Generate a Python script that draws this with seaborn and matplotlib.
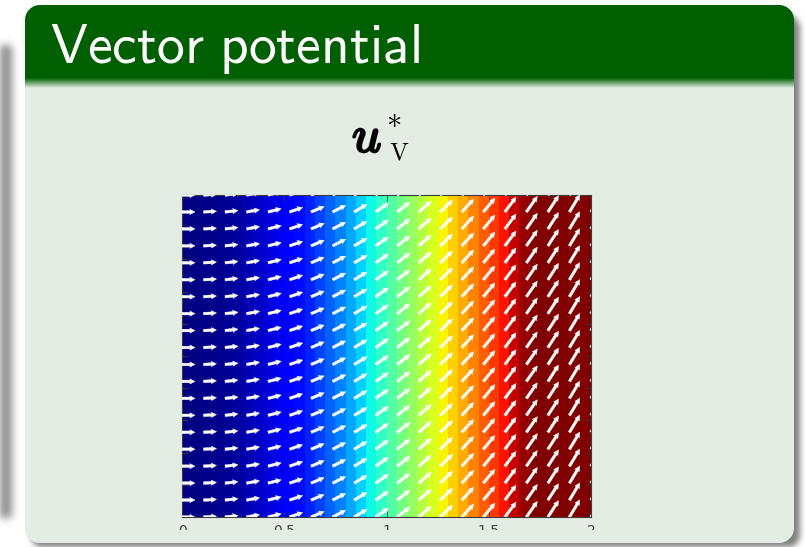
import numpy as np
import matplotlib
matplotlib.use("Agg")
import matplotlib.pyplot as plt
import matplotlib.patheffects as pe
from matplotlib.transforms import Affine2D, Bbox, TransformedBbox
import seaborn as sns

plt.rcParams["mathtext.fontset"] = "cm"

# Colour value (0..1 on the jet scale) of each vertical band, x from 0 to 2
band_value = [0.00, 0.005, 0.01, 0.015, 0.02, 0.03, 0.045, 0.06, 0.08, 0.10,
              0.115, 0.135, 0.16, 0.19, 0.22, 0.25, 0.29, 0.33, 0.37, 0.41,
              0.45, 0.49, 0.53, 0.57, 0.61, 0.65, 0.69, 0.73, 0.77, 0.81,
              0.85, 0.89, 0.94, 0.98, 1.00, 1.00, 1.00, 1.00, 1.00, 1.00]

# Arrow direction (degrees on screen) and length (pixels) for each grid column
arrow_angle_deg = [0, 3, 6, 10, 14, 19, 23, 27, 31, 35,
                   38, 41, 44, 47, 50, 53, 55, 57, 59, 61]
arrow_length_px = [13, 13, 13, 13.2, 13.5, 13.8, 14.2, 14.6, 15, 15.5,
                   16, 16.5, 17, 17.5, 18, 18.5, 19, 19.5, 20, 20.5]
n_rows = 20

x_range = (0.0, 2.0)
y_range = (0.0, 1.0)
x_ticks = [0, 0.5, 1, 1.5, 2]
x_tick_labels = ["0", "0.5", "1", "1.5", "2"]
y_ticks = [0.0, 0.1, 0.2, 0.3, 0.4, 0.5, 0.6, 0.7, 0.8, 0.9, 1.0]

W, H = 805, 547
fig = plt.figure(figsize=(W / 100, H / 100), dpi=100)

# ---------- slide backdrop: panels, shadows, header bar ----------
yy, xx = np.mgrid[0:H, 0:W] + 0.5


def rrect_cover(x0, y0, x1, y1, r):
    cx = np.clip(xx, x0 + r, x1 - r)
    cy = np.clip(yy, y0 + r, y1 - r)
    d = np.hypot(xx - cx, yy - cy) - r
    return np.clip(0.5 - d, 0, 1)


def blur(a, s):
    n = int(3 * s)
    k = np.exp(-0.5 * (np.arange(-n, n + 1) / s) ** 2)
    k /= k.sum()
    a = np.apply_along_axis(lambda m: np.convolve(m, k, mode="same"), 0, a)
    a = np.apply_along_axis(lambda m: np.convolve(m, k, mode="same"), 1, a)
    return a


img = np.ones((H, W, 3))
left_shadow = blur(rrect_cover(-6, 45, 12, 518, 4), 4)
img *= (1 - 0.45 * left_shadow)[..., None]
drop = blur(rrect_cover(31, 14, 799, 549, 15), 3)
img *= (1 - 0.5 * drop)[..., None]

green = np.array([0x00, 0x5f, 0x00]) / 255
body = np.array([0xe3, 0xed, 0xe3]) / 255
t = np.clip((yy - 78) / 10, 0, 1)[..., None]
panel_col = green * (1 - t) + body * t
mask = rrect_cover(25, 5, 793, 543, 15)[..., None]
img = img * (1 - mask) + panel_col * mask

bg = fig.add_axes([0, 0, 1, 1], zorder=0)
bg.imshow(img, extent=(0, W, H, 0), interpolation="nearest", aspect="auto")
bg.set_xlim(0, W)
bg.set_ylim(H, 0)
bg.axis("off")

fig.text(50 / W, 1 - 63 / H, r"$\mathsf{Vector\ potential}$", fontsize=40,
         color="white", ha="left", va="baseline")

# heading symbol: bold u with a star and an upright V
bold = [pe.withStroke(linewidth=1.6, foreground="black")]
fig.text(352 / W, 1 - 152 / H, r"$u$", fontsize=37, color="black",
         ha="left", va="baseline", path_effects=bold)
fig.text(394 / W, 1 - 119 / H, r"$*$", fontsize=22, color="black",
         ha="center", va="center")
fig.text(389 / W, 1 - 160 / H, r"$\mathrm{V}$", fontsize=18, color="black",
         ha="left", va="baseline")

# ---------- field plot ----------
ax = fig.add_axes([182 / W, (H - 517) / H, 409 / W, 322 / H], zorder=1)
sns.heatmap(np.array([band_value]), ax=ax, cmap="jet", vmin=0, vmax=1,
            cbar=False, xticklabels=False, yticklabels=False)

sx = len(band_value) / (x_range[1] - x_range[0])
to_cells = Affine2D().scale(sx, 1) + ax.transData

gx = np.linspace(x_range[0], x_range[1], len(arrow_angle_deg))
gy = np.linspace(y_range[0], y_range[1], n_rows)
X, Y = np.meshgrid(gx, gy)
ang = np.deg2rad(np.array(arrow_angle_deg))
L = np.array(arrow_length_px)
U = np.tile(L * np.cos(ang), (n_rows, 1))
V = np.tile(L * np.sin(ang), (n_rows, 1))
ax.quiver(X, Y, U, V, transform=to_cells, angles="uv", scale_units="dots",
          scale=1, units="dots", width=2.6, headwidth=2.0, headlength=2.0,
          headaxislength=1.8, color="white", pivot="tail", zorder=3,
          linewidth=0.3, edgecolor="white")

ax.set_xlim(x_range[0] * sx, x_range[1] * sx)
ax.set_ylim(*y_range)
ax.set_xticks([v * sx for v in x_ticks])
ax.set_xticklabels(x_tick_labels)
ax.set_yticks(y_ticks)
ax.set_yticklabels([])
for s in ax.spines.values():
    s.set_visible(True)
    s.set_color("#3c3c3c")
    s.set_linewidth(0.8)
ax.tick_params(axis="both", direction="in", length=4, width=0.6,
               color="#3c3c3c", top=True, right=True, labelleft=False,
               labelbottom=True, labelsize=10, labelcolor="#444444", pad=5)

clip = TransformedBbox(Bbox([[0, 17 / H], [1, 1]]), fig.transFigure)
for lab in ax.get_xticklabels():
    lab.set_clip_box(clip)
    lab.set_clip_on(True)

fig.savefig("out.png", dpi=100)
